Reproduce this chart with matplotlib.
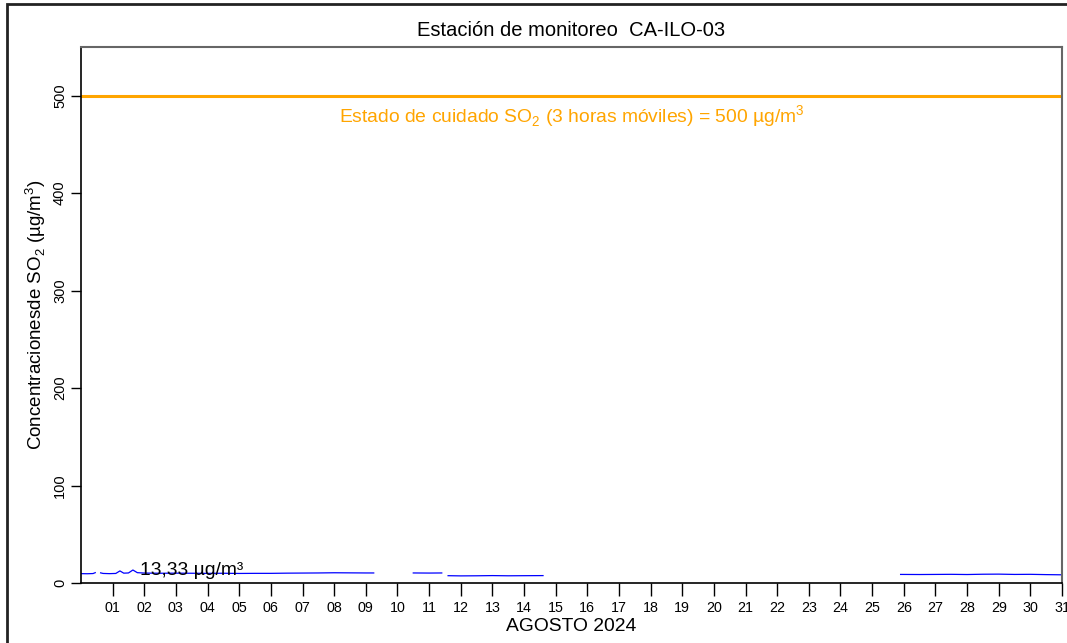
import numpy as np
import matplotlib
matplotlib.use("Agg")
import matplotlib.pyplot as plt
from matplotlib.patches import Rectangle

plt.rcParams["font.family"] = ["Liberation Sans", "DejaVu Sans"]
plt.rcParams["mathtext.fontset"] = "custom"
plt.rcParams["mathtext.rm"] = "Liberation Sans"

# SO2 concentration (µg/m³) against day of month; NaN marks missing data
day = [0.0, 0.2, 0.38, 0.45, 0.5,
       0.62, 0.7, 0.9, 1.1, 1.23, 1.35, 1.5, 1.64, 1.78, 2.0, 2.5, 3.0, 3.5,
       4.0, 4.5, 5.0, 5.5, 6.0, 6.5, 7.0, 7.5, 8.0, 8.5, 9.0, 9.25, 9.5,
       10.5, 11.0, 11.4, 11.5,
       11.6, 12.0, 12.5, 13.0, 13.5, 14.0, 14.6, 15.0,
       25.9, 26.5, 27.0, 27.5, 28.0, 28.5, 29.0, 29.5, 30.0, 30.5, 31.0]
so2 = [9.6, 9.5, 9.7, 10.6, np.nan,
       10.4, 9.8, 9.6, 9.8, 12.4, 10.1, 10.3, 13.33, 10.6, 10.2, 10.0, 10.1, 10.0,
       9.9, 10.0, 9.8, 9.9, 9.9, 10.1, 10.2, 10.3, 10.5, 10.4, 10.3, 10.3, np.nan,
       10.3, 10.2, 10.3, np.nan,
       7.5, 7.3, 7.4, 7.6, 7.4, 7.5, 7.6, np.nan,
       8.8, 8.7, 8.8, 8.9, 8.7, 9.0, 9.1, 8.8, 8.9, 8.6, 8.4]

day_ticks = list(range(1, 32))
day_labels = [f"{d:02d}" for d in day_ticks]
y_ticks = [0, 100, 200, 300, 400, 500]
limit_value = 500

fig = plt.figure(figsize=(10.67, 6.43), dpi=100)
ax = fig.add_axes([81 / 1067, 1 - 583 / 643, (1062 - 81) / 1067, (583 - 47) / 643])

# outer device frame
fig.patches.append(Rectangle((7 / 1067, -0.1), 1.2, 1 - 4 / 643 + 0.1,
                             transform=fig.transFigure, fill=False,
                             edgecolor="#222222", linewidth=2))

ax.plot(day, so2, color="#0000ff", linewidth=0.9)
ax.axhline(limit_value, color="#ffa500", linewidth=2.2)
ax.text(15.5, 478, "Estado de cuidado SO$_\\mathregular{2}$ (3 horas móviles) = 500 µg/m$^\\mathregular{3}$",
        color="#ffa500", fontsize=13.9, ha="center", va="center")

vals = np.array(so2, dtype=float)
imax = int(np.nanargmax(vals))
ax.text(day[imax] + 0.22, vals[imax], f"{vals[imax]:.2f}".replace(".", ",") + " µg/m³",
        fontsize=13.9, ha="left", va="center", color="black")

ax.set_xlim(0, 31)
ax.set_ylim(0, 550)
ax.set_xticks(day_ticks)
ax.set_xticklabels(day_labels, fontsize=10.3)
ax.set_yticks(y_ticks)
ax.set_yticklabels([str(v) for v in y_ticks], fontsize=10.5, rotation=90, va="center")
ax.tick_params(axis="x", length=9, width=1, pad=4)
ax.tick_params(axis="y", length=7, width=1, pad=3)

for s in ["top", "right"]:
    ax.spines[s].set_color("#666666")
    ax.spines[s].set_linewidth(1.5)
for s in ["left", "bottom"]:
    ax.spines[s].set_color("black")
    ax.spines[s].set_linewidth(1.2)

ax.set_title("Estación de monitoreo  CA-ILO-03", fontsize=14.5, pad=8)
ax.set_xlabel("AGOSTO 2024", fontsize=13.9, labelpad=2)
ax.set_ylabel("Concentracionesde SO$_\\mathregular{2}$ (µg/m$^\\mathregular{3}$)", fontsize=13.5, labelpad=4)

fig.savefig("out.png", dpi=100)
